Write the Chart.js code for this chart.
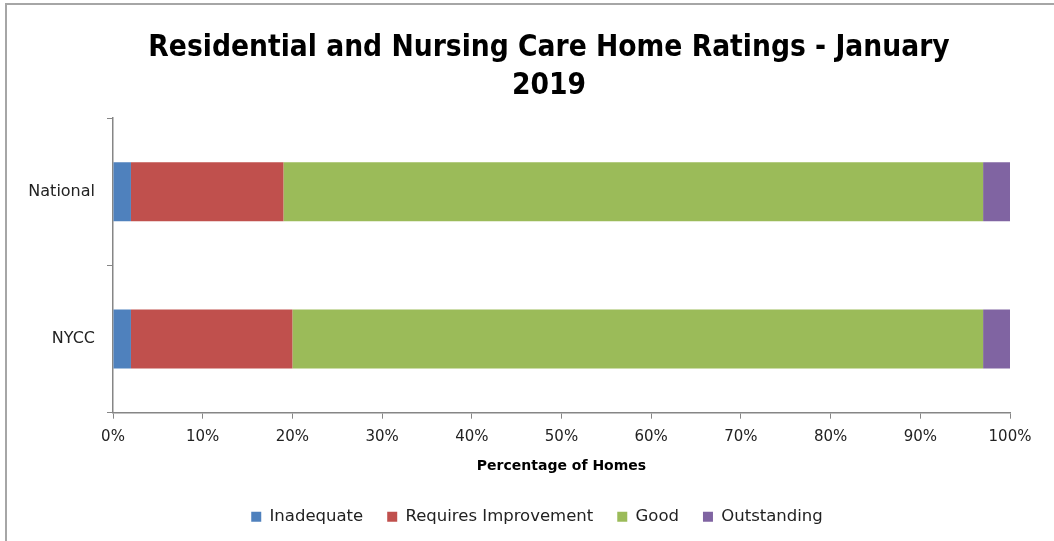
<!DOCTYPE html>
<html>
<head>
<meta charset="utf-8">
<script src="https://cdn.jsdelivr.net/npm/chart.js@4"></script>
<style>
  body { margin: 0; background: #fff; }
  #wrap { position: relative; width: 1054px; height: 541px; }
  #frame { position: absolute; left: 5px; top: 3px; width: 1049px; height: 538px; border-top: 2px solid #a6a6a6; border-left: 2px solid #a6a6a6; box-sizing: border-box; pointer-events: none; }
  canvas { position: absolute; left: 0; top: 0; }
</style>
</head>
<body>
<div id="wrap">
  <canvas id="grafica" width="1054" height="541"></canvas>
  <div id="frame"></div>
</div>
<script>
const categorias = ["National", "NYCC"];
const inadequate = [2, 2];
const requires_improvement = [17, 18];
const good = [78, 77];
const outstanding = [3, 3];
const ticks_x = [0, 10, 20, 30, 40, 50, 60, 70, 80, 90, 100];

const fuente = "'DejaVu Sans', sans-serif";
const gris = "#868686";
const texto = "#222";

// mueve el titulo y la leyenda para que queden centrados como en el original
const plugin_centrar = {
  id: "centrar",
  afterLayout: (chart) => {
    if (chart.titleBlock) {
      chart.titleBlock.left = 88;
      chart.titleBlock.right = 1010;
    }
    if (chart.legend) {
      chart.legend.left = 30;
      chart.legend.right = 1044;
    }
  },
};

const ctx = document.getElementById("grafica").getContext("2d");
new Chart(ctx, {
  type: "bar",
  data: {
    labels: categorias,
    datasets: [
      { label: "Inadequate", data: inadequate, backgroundColor: "#4F81BD" },
      { label: "Requires Improvement", data: requires_improvement, backgroundColor: "#C0504D" },
      { label: "Good", data: good, backgroundColor: "#9BBB59" },
      { label: "Outstanding", data: outstanding, backgroundColor: "#8064A2" },
    ],
  },
  options: {
    indexAxis: "y",
    responsive: false,
    animation: false,
    categoryPercentage: 1,
    barPercentage: 0.4,
    layout: { padding: { left: 20, right: 44, top: 30, bottom: 6 } },
    plugins: {
      title: {
        display: true,
        text: ["Residential and Nursing Care Home Ratings - January", "2019"],
        color: "#000",
        font: { family: "'Liberation Sans Narrow', 'DejaVu Sans Condensed', sans-serif", size: 29.6, weight: "bold", lineHeight: 1.27 },
        padding: { top: 0, bottom: 13 },
      },
      legend: {
        position: "bottom",
        labels: {
          boxWidth: 10,
          boxHeight: 10,
          color: texto,
          padding: 24,
          font: { family: fuente, size: 16.5 },
        },
      },
      tooltip: { enabled: false },
    },
    scales: {
      x: {
        stacked: true,
        min: 0,
        max: 100,
        afterBuildTicks: (axis) => {
          axis.ticks = ticks_x.map((v) => ({ value: v }));
        },
        ticks: {
          color: texto,
          font: { family: fuente, size: 15 },
          callback: (v) => v + "%",
          maxRotation: 0,
          padding: 9,
        },
        grid: { drawOnChartArea: false, drawTicks: true, tickLength: 6, color: gris },
        border: { color: gris, width: 1.5 },
        title: {
          display: true,
          text: "Percentage of Homes",
          color: "#000",
          font: { family: fuente, size: 14, weight: "bold" },
          padding: { top: 3, bottom: 10 },
        },
      },
      y: {
        stacked: true,
        ticks: {
          color: texto,
          font: { family: fuente, size: 16 },
          padding: 12,
        },
        grid: { drawOnChartArea: false, drawTicks: true, tickLength: 6, color: gris, offset: true },
        border: { color: gris, width: 1.5 },
        afterFit: (axis) => {
          axis.width = 93;
        },
      },
    },
  },
  plugins: [plugin_centrar],
});
</script>
</body>
</html>
